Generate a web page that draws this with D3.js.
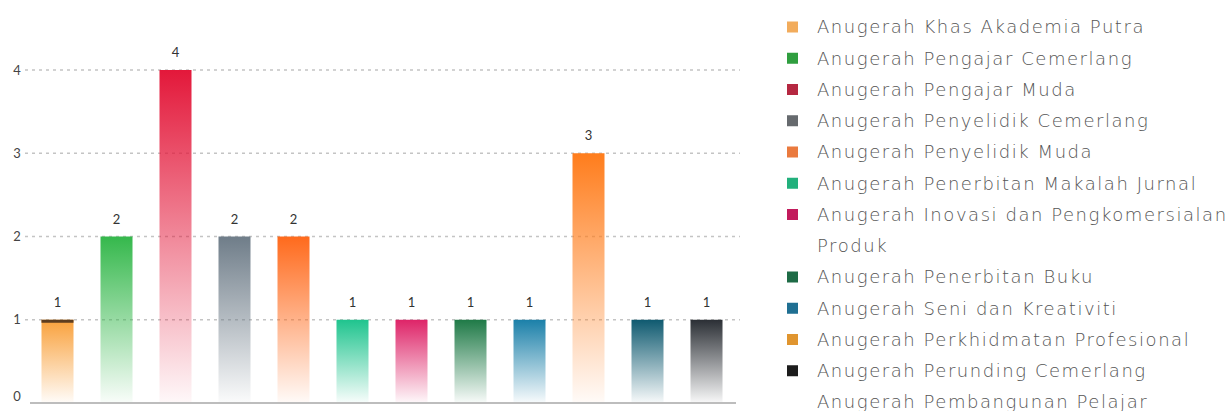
<!DOCTYPE html>
<html>
<head>
<meta charset="utf-8">
<script src="https://cdn.jsdelivr.net/npm/d3@7"></script>
<style>
  html, body { margin: 0; padding: 0; background: #fff; }
  svg { display: block; }
</style>
</head>
<body>
<svg id="chart" width="1228" height="411"></svg>
<script>
// ---- data ----
const categories = [
  "Anugerah Khas Akademia Putra",
  "Anugerah Pengajar Cemerlang",
  "Anugerah Pengajar Muda",
  "Anugerah Penyelidik Cemerlang",
  "Anugerah Penyelidik Muda",
  "Anugerah Penerbitan Makalah Jurnal",
  "Anugerah Inovasi dan Pengkomersialan Produk",
  "Anugerah Penerbitan Buku",
  "Anugerah Seni dan Kreativiti",
  "Anugerah Perkhidmatan Profesional",
  "Anugerah Perunding Cemerlang",
  "Anugerah Pembangunan Pelajar"
];
const legendLabels = categories.slice();
const values = [1, 2, 4, 2, 2, 1, 1, 1, 1, 3, 1, 1];
const yTicks = [0, 1, 2, 3, 4];

// ---- styles ----
const barColors = ["#f9a13c", "#35b84c", "#e3183a", "#6f7d89", "#ff6a1c", "#1fc48e",
                   "#de2468", "#1f7a47", "#1b80a9", "#ff7d1c", "#0f5a70", "#2b2f35"];
const markerColors = ["#f2ac5c", "#2f9e3f", "#b52841", "#666a6e", "#ea7a3e", "#22b07c",
                      "#c21b5c", "#1e6b46", "#1f6f92", "#e0952f", "#1c1c1c", "none"];
const accentColors = ["#5e3d1f", null, null, null, null, null, null, null, null, null, null, null];

const svg = d3.select("#chart");
const margin = { left: 28, right: 736, top: 70, bottom: 403 };

const x = d3.scaleBand().domain(categories).range([margin.left, margin.right]).padding(0);
const barW = 32;
const y = d3.scaleLinear().domain([0, 4]).range([margin.bottom, margin.top]);

// gradients
const defs = svg.append("defs");
barColors.forEach((c, i) => {
  const g = defs.append("linearGradient").attr("id", "g" + i)
    .attr("x1", 0).attr("y1", 0).attr("x2", 0).attr("y2", 1);
  g.append("stop").attr("offset", "0%").attr("stop-color", c).attr("stop-opacity", 1);
  g.append("stop").attr("offset", "100%").attr("stop-color", c).attr("stop-opacity", 0.03);
});

// gridlines
svg.append("g").selectAll("line").data(yTicks.filter(t => t > 0)).join("line")
  .attr("x1", 25).attr("x2", 740)
  .attr("y1", d => y(d)).attr("y2", d => y(d))
  .attr("stroke", "#c4c4c4").attr("stroke-width", 1.3).attr("stroke-dasharray", "3,4");

// y tick labels
svg.append("g").selectAll("text").data(yTicks).join("text")
  .attr("x", 17).attr("y", d => Math.min(y(d), 396))
  .attr("dy", "0.35em").attr("text-anchor", "middle")
  .attr("font-family", "Lato, sans-serif").attr("font-size", 13).attr("fill", "#444")
  .text(d => d);

// bars
const cx = d => x(d) + x.bandwidth() / 2;
svg.append("g").selectAll("rect").data(categories).join("rect")
  .attr("x", d => cx(d) - barW / 2)
  .attr("y", (d, i) => y(values[i]))
  .attr("width", barW)
  .attr("height", (d, i) => y(0) - y(values[i]))
  .attr("fill", (d, i) => `url(#g${i})`);

// top accents
svg.append("g").selectAll("rect").data(categories.filter((d, i) => accentColors[i])).join("rect")
  .attr("x", d => cx(d) - barW / 2)
  .attr("y", d => y(values[categories.indexOf(d)]))
  .attr("width", barW).attr("height", 3)
  .attr("fill", d => accentColors[categories.indexOf(d)]);

// axis line
svg.append("line").attr("x1", 30).attr("x2", 736).attr("y1", y(0)).attr("y2", y(0))
  .attr("stroke", "#bdbdbd").attr("stroke-width", 2);

// value labels
svg.append("g").selectAll("text").data(categories).join("text")
  .attr("x", d => cx(d)).attr("y", (d, i) => y(values[i]) - 13)
  .attr("text-anchor", "middle")
  .attr("font-family", "Lato, sans-serif").attr("font-size", 13).attr("fill", "#333")
  .text((d, i) => values[i]);

// legend
const legX = 787, textX = 817, rowH = 31.25, legTop = 27;
const lines = [];
legendLabels.forEach((t, i) => {
  if (t === "Anugerah Inovasi dan Pengkomersialan Produk") {
    lines.push({ text: "Anugerah Inovasi dan Pengkomersialan", color: markerColors[i] });
    lines.push({ text: "Produk", color: null });
  } else {
    lines.push({ text: t, color: markerColors[i] });
  }
});
const leg = svg.append("g");
leg.selectAll("rect").data(lines.map((l, k) => ({ ...l, k })).filter(l => l.color && l.color !== "none")).join("rect")
  .attr("x", legX).attr("y", l => legTop + l.k * rowH - 5.5)
  .attr("width", 11).attr("height", 11).attr("fill", l => l.color);
leg.selectAll("text").data(lines).join("text")
  .attr("x", textX).attr("y", (l, k) => legTop + k * rowH)
  .attr("dy", "0.35em")
  .attr("font-family", "'DejaVu Sans', sans-serif").attr("font-weight", 200)
  .attr("font-size", 18).attr("letter-spacing", 1.55).attr("fill", "#555")
  .text(l => l.text);
</script>
</body>
</html>
